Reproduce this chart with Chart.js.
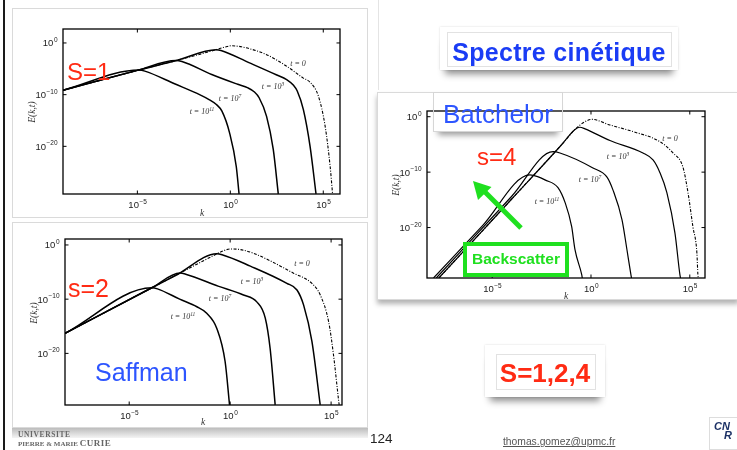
<!DOCTYPE html>
<html lang="fr">
<head>
<meta charset="UTF-8">
<title>Spectre cinétique</title>
<script src="https://cdn.jsdelivr.net/npm/chart.js"></script>
<style>
    body {
        margin: 0;
        width: 737px;
        height: 450px;
        position: relative;
        overflow: hidden;
        background: #fff;
        font-family: 'Liberation Sans', Arial, sans-serif;
    }
    .abs { position: absolute; }
    .card {
        position: absolute;
        background: #fff;
        border: 1px solid #dadada;
        box-sizing: border-box;
    }
    canvas { position: absolute; }
    .tlab {
        position: absolute;
        font-family: 'Liberation Serif', serif;
        font-style: italic;
        font-size: 8px;
        color: #333;
        transform: translate(-50%, -50%);
        white-space: nowrap;
    }
    .tlab sup { font-size: 5.5px; vertical-align: 3px; }
    .axlab {
        position: absolute;
        font-family: 'Liberation Serif', serif;
        font-style: italic;
        font-size: 9.5px;
        color: #333;
        transform: translate(-50%, -50%);
        white-space: nowrap;
    }
    .big { position: absolute; line-height: 1; white-space: nowrap; }
    .note {
        position: absolute;
        background: #fff;
        box-sizing: border-box;
        box-shadow: 0 9px 7px -5px rgba(0, 0, 0, 0.45), 0 0 2px rgba(0, 0, 0, 0.15);
    }
    .note .inner {
        position: absolute;
        border: 1px solid #e2e2e2;
    }
</style>
</head>
<body>

<!-- slide frame -->
<div class="abs" style="left:3px;top:0;width:1.6px;height:450px;background:#1a1a1a"></div>
<div class="abs" style="left:378px;top:0;width:1px;height:90px;background:#e4e4e4"></div>

<!-- figure cards -->
<div class="card" style="left:12px;top:8px;width:356px;height:210px"></div>
<div class="card" style="left:12px;top:222px;width:356px;height:206px"></div>
<div class="abs" style="left:12px;top:428px;width:356px;height:10px;background:linear-gradient(#bdbdbd,#f4f4f4)"></div>
<div class="card" style="left:377px;top:92px;width:362px;height:208px;box-shadow:0 4px 5px rgba(0,0,0,0.3)"></div>

<canvas id="c1" width="356" height="210" style="left:12px;top:8px"></canvas>
<canvas id="c2" width="356" height="206" style="left:12px;top:222px"></canvas>
<canvas id="c3" width="360" height="208" style="left:377px;top:92px"></canvas>

<!-- axis titles -->
<div class="axlab" style="left:202px;top:213px">k</div>
<div class="axlab" style="left:32px;top:112px;transform:translate(-50%,-50%) rotate(-90deg)">E(k,t)</div>
<div class="axlab" style="left:203px;top:422px">k</div>
<div class="axlab" style="left:34px;top:313px;transform:translate(-50%,-50%) rotate(-90deg)">E(k,t)</div>
<div class="axlab" style="left:566px;top:296px">k</div>
<div class="axlab" style="left:396px;top:185px;transform:translate(-50%,-50%) rotate(-90deg)">E(k,t)</div>

<!-- curve labels -->
<div class="tlab" style="left:298px;top:63px">t = 0</div>
<div class="tlab" style="left:273px;top:86px">t = 10<sup>3</sup></div>
<div class="tlab" style="left:230px;top:98px">t = 10<sup>7</sup></div>
<div class="tlab" style="left:202px;top:111px">t = 10<sup>11</sup></div>

<div class="tlab" style="left:302px;top:263px">t = 0</div>
<div class="tlab" style="left:252px;top:281px">t = 10<sup>3</sup></div>
<div class="tlab" style="left:220px;top:298px">t = 10<sup>7</sup></div>
<div class="tlab" style="left:183px;top:316px">t = 10<sup>11</sup></div>

<div class="tlab" style="left:670px;top:138px">t = 0</div>
<div class="tlab" style="left:618px;top:156px">t = 10<sup>3</sup></div>
<div class="tlab" style="left:590px;top:179px">t = 10<sup>7</sup></div>
<div class="tlab" style="left:547px;top:201px">t = 10<sup>11</sup></div>

<!-- slide annotations -->
<div class="big" style="left:67px;top:60px;font-size:24px;color:#ff2b14">S=1</div>
<div class="big" style="left:68px;top:276px;font-size:25px;color:#ff2b14">s=2</div>
<div class="big" style="left:95px;top:360px;font-size:25px;color:#2d55ff">Saffman</div>

<div class="abs" style="left:433px;top:92px;width:130px;height:40px;border:1px solid #d6d6d6;box-sizing:border-box;box-shadow:0 8px 6px -5px rgba(0,0,0,0.4)"></div>
<div class="big" style="left:443px;top:101px;font-size:26px;color:#2d55ff">Batchelor</div>
<div class="big" style="left:477px;top:145px;font-size:24px;color:#ff2b14">s=4</div>

<svg class="abs" style="left:0;top:0" width="737" height="450">
    <line x1="521" y1="228" x2="485" y2="192" stroke="#1fe01f" stroke-width="5"/>
    <polygon points="473,181 491.5,187 478,200" fill="#1fe01f"/>
</svg>
<div class="abs" style="left:463px;top:242px;width:106px;height:35px;border:4px solid #1fe01f;box-sizing:border-box;background:#fff"></div>
<div class="big" style="left:463px;top:251px;width:106px;text-align:center;font-size:15.5px;font-weight:bold;color:#1fe01f">Backscatter</div>

<div class="note" style="left:440px;top:27px;width:238px;height:43px">
    <div class="inner" style="left:7px;top:5px;width:223px;height:33px"></div>
</div>
<div class="big" style="left:440px;top:40px;width:238px;text-align:center;font-size:25px;font-weight:bold;letter-spacing:0.3px;color:#1a3cf5">Spectre cinétique</div>

<div class="note" style="left:485px;top:345px;width:120px;height:52px">
    <div class="inner" style="left:11px;top:9px;width:98px;height:34px"></div>
</div>
<div class="big" style="left:485px;top:360px;width:120px;text-align:center;font-size:26px;font-weight:bold;color:#ff2b14">S=1,2,4</div>

<!-- footer -->
<div class="big" style="left:18px;top:431px;font-family:'Liberation Serif',serif;font-size:7.5px;font-weight:bold;letter-spacing:0.6px;color:#666">UNIVERSITE</div>
<div class="big" style="left:18px;top:439px;font-family:'Liberation Serif',serif;font-size:7px;font-weight:bold;color:#666">PIERRE &amp; MARIE <span style="font-size:9px;letter-spacing:0.5px">CURIE</span></div>
<div class="big" style="left:370px;top:432px;font-size:13.5px;color:#222">124</div>
<div class="big" style="left:503px;top:437px;font-size:10.3px;color:#555;text-decoration:underline">thomas.gomez@upmc.fr</div>
<div class="abs" style="left:709px;top:417px;width:30px;height:33px;border:1px solid #ddd;box-sizing:border-box;background:#fff"></div>
<div class="big" style="left:714px;top:421px;font-size:11px;font-weight:bold;font-style:italic;color:#1d3266">CN</div>
<div class="big" style="left:724px;top:430px;font-size:11px;font-weight:bold;font-style:italic;color:#1d3266">R</div>

<script>
    // tick positions (decades)
    const xTicks = [1e-5, 1e0, 1e5];
    const yTicks = [1e-20, 1e-10, 1e0];

    // s = 1 : log10 k / log10 E
    const s1_t0_k = [-9.0, -5.0, -2.9, -0.76, -0.3, 0.05, 0.6, 1.95, 3.03, 3.93, 4.29, 4.74, 5.1, 5.37, 5.5];
    const s1_t0_E = [-9.15, -5.3, -3.4, -1.3, -0.8, -0.55, -0.75, -2.26, -4.5, -6.8, -7.6, -10.3, -16.1, -23.9, -29.2];
    const s1_t3_k = [-9.0, -5.0, -2.9, -0.76, -0.5, 1.0, 2.5, 3.03, 3.4, 3.6, 3.93, 4.29, 4.61];
    const s1_t3_E = [-9.15, -5.3, -3.4, -1.3, -1.45, -3.8, -6.2, -7.1, -8.2, -9.3, -12.9, -20, -29.2];
    const s1_t7_k = [-9.0, -5.0, -2.92, -2.6, -1.0, 0.4, 0.95, 1.3, 1.55, 1.95, 2.31, 2.58];
    const s1_t7_E = [-9.15, -5.3, -3.4, -3.6, -6.1, -8.0, -8.7, -9.5, -10.6, -14.2, -20.6, -29.2];
    const s1_t11_k = [-9.0, -4.9, -4.6, -3.0, -1.6, -1.12, -0.75, -0.45, -0.04, 0.32, 0.47];
    const s1_t11_E = [-9.15, -5.25, -5.45, -7.9, -10.1, -11.0, -11.9, -13.2, -17.4, -23.9, -29.2];

    // s = 2
    const s2_t0_k = [-8.18, -3.88, -2.64, -0.83, -0.35, 0, 0.5, 1.16, 3.14, 4.05, 4.46, 4.88, 5.12, 5.37, 5.4];
    const s2_t0_E = [-16.3, -7.9, -5.5, -1.97, -1.1, -0.74, -0.85, -1.54, -5.2, -7.1, -9.2, -14.2, -20.3, -28.6, -29.5];
    const s2_t3_k = [-8.18, -3.88, -2.64, -0.66, -0.4, 1.0, 2.81, 3.31, 3.64, 4.05, 4.46];
    const s2_t3_E = [-16.3, -7.9, -5.5, -1.63, -1.8, -3.9, -7.08, -8.3, -11.1, -17.8, -29.5];
    const s2_t7_k = [-8.18, -3.88, -2.48, -2.2, -0.6, 0.66, 1.32, 1.74, 1.98, 2.23];
    const s2_t7_E = [-16.3, -7.9, -5.19, -5.4, -7.6, -9.23, -10.5, -13.5, -19.1, -29.5];
    const s2_t11_k = [-8.18, -3.88, -3.6, -2.5, -1.65, -1.16, -0.66, -0.25, -0.03];
    const s2_t11_E = [-16.3, -7.9, -8.1, -10.0, -11.4, -12.6, -15.4, -21.5, -29.5];

    // s = 4
    const s4_t0_k = [-7.70, -4.0, -1.5, -0.81, -0.35, 0.035, 0.96, 2.14, 3.49, 4.15, 4.65, 4.91, 5.16, 5.36, 5.41, 5.44];
    const s4_t0_E = [-29.1, -14.8, -5.1, -2.3, -1.0, -0.47, -1.5, -2.7, -4.5, -6.54, -9.06, -13.7, -19.9, -24.6, -28.5, -29.1];
    const s4_t3_k = [-7.70, -4.0, -1.5, -0.81, -0.56, -0.3, 0.96, 2.63, 3.14, 3.49, 3.84, 4.25, 4.5, 4.53];
    const s4_t3_E = [-29.1, -14.8, -5.1, -2.3, -1.9, -2.2, -4.3, -6.54, -7.8, -10.1, -13.7, -21.0, -28.5, -29.1];
    const s4_t7_k = [-7.83, -4.0, -1.92, -1.57, 0.1, 0.81, 1.11, 1.57, 1.82, 2.02, 2.05];
    const s4_t7_E = [-29.1, -14.3, -6.3, -6.54, -9.24, -10.9, -13.2, -18.6, -24.0, -28.5, -29.1];
    const s4_t11_k = [-7.97, -5.5, -3.09, -2.7, -2.33, -1.67, -1.3, -0.98, -0.81, -0.47, -0.44];
    const s4_t11_E = [-29.1, -19.7, -10.5, -10.8, -11.4, -12.8, -15.6, -19.8, -24.0, -28.5, -29.1];

    function pts(k, E) {
        return k.map((v, i) => ({ x: Math.pow(10, v), y: Math.pow(10, E[i]) }));
    }

    function drawPow(ctx, x, y, exp, align) {
        const base = '10', ex = String(exp).replace('-', '\u2212');
        ctx.font = '9.5px "Liberation Sans", Arial';
        const wb = ctx.measureText(base).width;
        ctx.font = '6.5px "Liberation Sans", Arial';
        const we = ctx.measureText(ex).width;
        const x0 = align === 'right' ? x - wb - we : x - (wb + we) / 2;
        ctx.fillStyle = '#222';
        ctx.textAlign = 'left';
        ctx.textBaseline = 'alphabetic';
        ctx.font = '9.5px "Liberation Sans", Arial';
        ctx.fillText(base, x0, y);
        ctx.font = '6.5px "Liberation Sans", Arial';
        ctx.fillText(ex, x0 + wb + 0.5, y - 4.5);
    }

    // matlab style box with inward ticks
    const boxPlugin = {
        id: 'matlabBox',
        afterDatasetsDraw(chart) {
            const { ctx, chartArea: a, scales: { x, y } } = chart;
            ctx.save();
            ctx.strokeStyle = '#000';
            ctx.lineWidth = 1.3;
            ctx.strokeRect(a.left, a.top, a.right - a.left, a.bottom - a.top);
            ctx.lineWidth = 1;
            x.ticks.forEach(t => {
                const p = x.getPixelForValue(t.value);
                ctx.beginPath();
                ctx.moveTo(p, a.bottom); ctx.lineTo(p, a.bottom - 3.5);
                ctx.moveTo(p, a.top); ctx.lineTo(p, a.top + 3.5);
                ctx.stroke();
                drawPow(ctx, p, a.bottom + 14, Math.round(Math.log10(t.value)), 'center');
            });
            y.ticks.forEach(t => {
                const p = y.getPixelForValue(t.value);
                ctx.beginPath();
                ctx.moveTo(a.left, p); ctx.lineTo(a.left + 3.5, p);
                ctx.moveTo(a.right, p); ctx.lineTo(a.right - 3.5, p);
                ctx.stroke();
                drawPow(ctx, a.left - 6, p + 3.5, Math.round(Math.log10(t.value)), 'right');
            });
            ctx.restore();
        }
    };

    function makeChart(id, curves, xr, yr, yw, xh, padR, padT, lw) {
        const styles = [
            { borderWidth: 1.1, borderDash: [3, 1.5, 1, 1.5] },
            { borderWidth: lw }, { borderWidth: lw }, { borderWidth: lw }
        ];
        return new Chart(document.getElementById(id), {
            type: 'line',
            data: {
                datasets: curves.map((c, i) => Object.assign({
                    data: pts(c[0], c[1]),
                    borderColor: '#000',
                    pointRadius: 0,
                    fill: false,
                    cubicInterpolationMode: 'monotone'
                }, styles[i]))
            },
            options: {
                responsive: false,
                animation: false,
                devicePixelRatio: 1,
                layout: { padding: { left: 0, right: padR, top: padT, bottom: 0 } },
                plugins: { legend: { display: false }, tooltip: { enabled: false } },
                scales: {
                    x: {
                        type: 'logarithmic',
                        min: Math.pow(10, xr[0]), max: Math.pow(10, xr[1]),
                        grid: { display: false }, border: { display: false },
                        ticks: { display: false },
                        afterBuildTicks: s => { s.ticks = xTicks.map(v => ({ value: v })); },
                        afterFit: s => { s.height = xh; }
                    },
                    y: {
                        type: 'logarithmic',
                        min: Math.pow(10, yr[0]), max: Math.pow(10, yr[1]),
                        grid: { display: false }, border: { display: false },
                        ticks: { display: false },
                        afterBuildTicks: s => { s.ticks = yTicks.map(v => ({ value: v })); },
                        afterFit: s => { s.width = yw; }
                    }
                }
            },
            plugins: [boxPlugin]
        });
    }

    makeChart('c1', [[s1_t0_k, s1_t0_E], [s1_t3_k, s1_t3_E], [s1_t7_k, s1_t7_E], [s1_t11_k, s1_t11_E]],
        [-9.0, 5.9], [-29.2, 2.7], 51, 24, 28, 21, 1.5);
    makeChart('c2', [[s2_t0_k, s2_t0_E], [s2_t3_k, s2_t3_E], [s2_t7_k, s2_t7_E], [s2_t11_k, s2_t11_E]],
        [-8.18, 5.54], [-29.5, 1.1], 53, 23, 26, 17, 1.5);
    makeChart('c3', [[s4_t0_k, s4_t0_E], [s4_t3_k, s4_t3_E], [s4_t7_k, s4_t7_E], [s4_t11_k, s4_t11_E]],
        [-8.3, 5.77], [-29.1, 1.03], 50, 22, 32, 19, 1.2);
</script>
</body>
</html>
